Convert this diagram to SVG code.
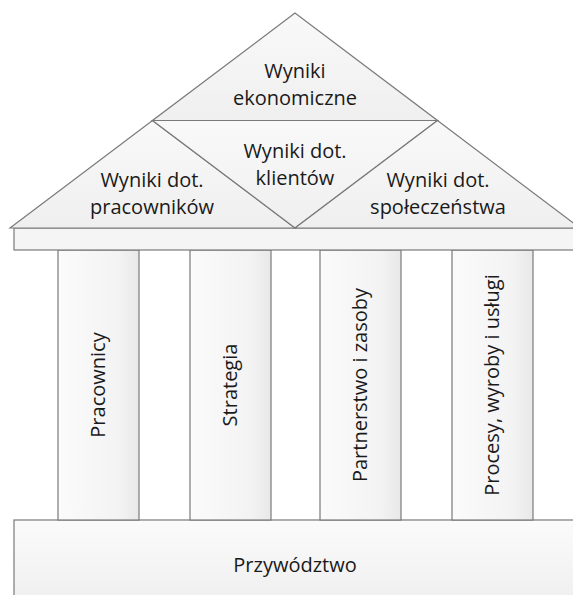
<svg xmlns="http://www.w3.org/2000/svg" width="573" height="595" viewBox="0 0 573 595">
<defs>
  <linearGradient id="gRoof" x1="0" y1="0" x2="0" y2="1">
    <stop offset="0" stop-color="#f9f9f9"/>
    <stop offset="1" stop-color="#efefef"/>
  </linearGradient>
  <linearGradient id="gCol" x1="0" y1="0" x2="1" y2="0">
    <stop offset="0" stop-color="#fbfbfb"/>
    <stop offset="0.75" stop-color="#f3f3f3"/>
    <stop offset="1" stop-color="#e8e8e8"/>
  </linearGradient>
  <linearGradient id="gBase" x1="0" y1="0" x2="0" y2="1">
    <stop offset="0" stop-color="#fbfbfb"/>
    <stop offset="1" stop-color="#eeeeee"/>
  </linearGradient>
</defs>
<style>
  .shape { stroke: #7a7a7a; stroke-width: 1.2; stroke-linejoin: miter; }
  .roof { fill: url(#gRoof); }
  .col { fill: url(#gCol); }
  .beam { fill: #f5f5f5; }
  .base { fill: url(#gBase); }
  text { font-family: "Open Sans", "Liberation Sans", sans-serif; font-size: 20px; fill: #1a1a1a; text-anchor: middle; }
</style>
<rect x="0" y="0" width="573" height="595" fill="#ffffff"/>

<g id="base">
  <rect class="shape base" x="14" y="520" width="564" height="90"/>
  <text x="295" y="572">Przywództwo</text>
</g>

<g id="col-pracownicy">
  <rect class="shape col" x="58" y="250" width="81" height="270"/>
  <text transform="translate(105,385) rotate(-90)">Pracownicy</text>
</g>
<g id="col-strategia">
  <rect class="shape col" x="190" y="250" width="81" height="270"/>
  <text transform="translate(237,385) rotate(-90)">Strategia</text>
</g>
<g id="col-partnerstwo">
  <rect class="shape col" x="320" y="250" width="81" height="270"/>
  <text transform="translate(367,385) rotate(-90)">Partnerstwo i zasoby</text>
</g>
<g id="col-procesy">
  <rect class="shape col" x="452" y="250" width="81" height="270"/>
  <text transform="translate(499,385) rotate(-90)">Procesy, wyroby i usługi</text>
</g>

<g id="architrave">
  <rect class="shape beam" x="14" y="228" width="564" height="22"/>
</g>

<g id="roof-ekonomiczne">
  <polygon class="shape roof" points="295,13 152.5,120.5 437.5,120.5"/>
  <text x="295" y="78">Wyniki</text>
  <text x="295" y="105">ekonomiczne</text>
</g>
<g id="roof-pracownikow">
  <polygon class="shape roof" points="10,228 152.5,120.5 295,228"/>
  <text x="152" y="187">Wyniki dot.</text>
  <text x="152" y="214">pracowników</text>
</g>
<g id="roof-klientow">
  <polygon class="shape roof" points="152.5,120.5 437.5,120.5 295,228"/>
  <text x="295" y="158">Wyniki dot.</text>
  <text x="295" y="185">klientów</text>
</g>
<g id="roof-spoleczenstwa">
  <polygon class="shape roof" points="295,228 437.5,120.5 580,228"/>
  <text x="438" y="187">Wyniki dot.</text>
  <text x="438" y="214">społeczeństwa</text>
</g>

<g id="connectors"></g>
</svg>
